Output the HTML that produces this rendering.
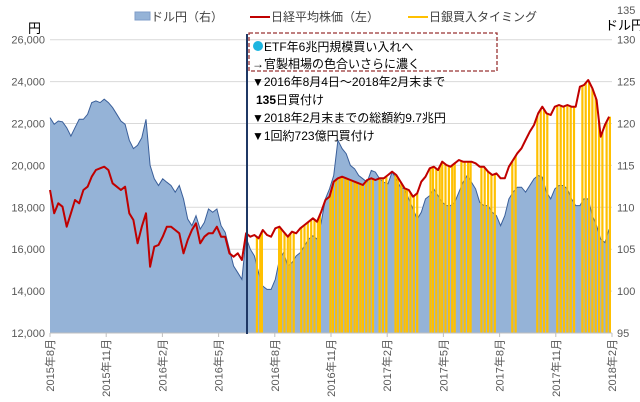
<!DOCTYPE html>
<html><head><meta charset="utf-8">
<style>
body{margin:0;background:#fff;}
svg{display:block;font-family:"Liberation Sans","Noto Sans CJK JP",sans-serif;}
</style></head>
<body>
<svg id="chart" width="640" height="402" viewBox="0 0 640 402" xmlns="http://www.w3.org/2000/svg">
<g id="grid"></g>
<g id="usd"></g>
<g id="boj"></g>
<g id="nk"></g>
<g id="axes"></g>
<line x1="247" y1="34" x2="247" y2="334" stroke="#1F3864" stroke-width="2"/>
<g font-size="12" fill="#000">
<rect x="249" y="33" width="248" height="38" fill="none" stroke="#993333" stroke-width="1.3" stroke-dasharray="4,2"/>
<circle cx="258" cy="46" r="5" fill="#1CB5E0"/>
<text x="264" y="51">ETF年6兆円規模買い入れへ</text>
<text x="252" y="68">→官製相場の色合いさらに濃く</text>
<text x="252" y="86">▼2016年8月4日～2018年2月末まで</text>
<text x="256" y="104"><tspan font-weight="bold">135</tspan>日買付け</text>
<text x="252" y="122">▼2018年2月末までの総額約9.7兆円</text>
<text x="252" y="140">▼1回約723億円買付け</text>
</g>
<g font-size="12" fill="#404040">
<rect x="135" y="12" width="15" height="8" fill="#95B3D7" stroke="#7F9CC8"/>
<text x="151" y="21">ドル円（右）</text>
<line x1="250" y1="17" x2="270" y2="17" stroke="#C00000" stroke-width="2"/>
<text x="271" y="21">日経平均株価（左）</text>
<line x1="408" y1="17" x2="428" y2="17" stroke="#FFC000" stroke-width="2"/>
<text x="429" y="21">日銀買入タイミング</text>
</g>
<text x="28" y="33" font-size="13" fill="#000">円</text>
<text x="605" y="30" font-size="13" fill="#000">ドル円</text>
</svg>
<script>
const nikkei=[18825,17713,18190,18029,17075,17713,18348,18190,18825,18983,19460,19780,19861,19937,19780,19145,18983,18825,18983,17713,17393,16281,17075,17713,15165,16120,16200,16598,17075,17075,16916,16757,15804,16439,16916,17234,16281,16598,16757,16757,17075,16598,16598,15804,15641,15804,15484,
16757,16598,16677,16519,16916,16677,16598,16996,17075,16836,16598,16836,16757,16996,17155,17313,17473,17313,17790,18348,18506,19222,19384,19460,19384,19302,19222,19145,19064,19302,19384,19302,19384,19384,19541,19700,19541,19222,18906,18825,18506,18668,19222,19460,19861,19937,
19780,20176,20019,19937,20100,20257,20176,20176,20176,20100,19937,19937,19700,19541,19620,19384,19384,19937,20257,20577,20816,21212,21608,21928,22486,22801,22486,22405,22801,22882,22801,22882,22801,22801,23756,23837,24076,23679,23121,21371,21928,22324];
const usdjpy=[120.7,119.9,120.3,120.2,119.5,118.5,119.5,120.5,120.5,121.1,122.5,122.7,122.5,122.9,122.5,121.9,121.1,120.3,119.9,118.0,117.0,117.4,118.3,120.5,115.0,113.4,112.6,113.4,113.0,112.6,111.8,112.6,111.0,108.6,107.8,109.0,107.4,108.2,109.8,109.4,109.8,107.8,107.0,105.0,103.0,102.2,101.4,
106.4,105.0,104.2,102.2,100.6,100.2,100.2,101.4,103.8,104.6,103.0,103.4,104.2,104.6,105.4,106.2,106.6,106.2,108.2,111.0,112.2,113.8,118.0,117.0,116.4,115.0,114.6,113.8,113.4,113.0,114.4,114.2,113.4,113.0,112.8,114.2,113.4,112.4,112.2,111.0,109.8,108.6,109.4,111.0,111.4,112.2,
111.4,110.6,110.2,110.2,110.6,111.8,113.0,113.8,113.0,112.2,110.6,110.2,110.2,109.4,109.0,107.8,109.0,111.0,111.8,112.4,112.4,111.8,112.6,113.4,113.8,113.6,111.8,111.0,112.2,112.6,112.6,112.2,111.0,110.2,110.2,111.0,111.0,109.0,107.8,106.2,105.8,107.4];
const bojWeeks=[49.6,50.4,50.8,54.9,55.4,56.2,57.0,57.6,58.4,60.2,61.0,61.8,62.6,63.4,64.2,64.7,67.2,67.8,68.6,69.4,70.0,70.8,71.4,72.2,73.0,73.6,74.4,75.0,75.8,76.6,77.4,79.0,79.8,80.6,82.8,83.4,84.2,85.0,85.6,86.4,87.2,88.0,91.2,91.8,92.6,93.4,94.0,94.8,95.6,96.4,97.0,98.6,99.4,100.2,100.8,103.4,104.2,105.0,105.8,106.6,110.8,111.6,116.8,117.6,118.4,119.2,121.6,122.4,123.2,124.0,124.8,125.6,127.6,128.4,129.2,130.0,130.8,131.6,132.4,133.4,134.2];
const leftTicks=[12000,14000,16000,18000,20000,22000,24000,26000];
const rightTicks=[95,100,105,110,115,120,125,130,135];
const xLabels=["2015年8月","2015年11月","2016年2月","2016年5月","2016年8月","2016年11月","2017年2月","2017年5月","2017年8月","2017年11月","2018年2月"];

const NS="http://www.w3.org/2000/svg";
const X0=50,X1=612,YB=333;
const WEEKS=134.7;
function xW(w){return X0+w*(X1-X0)/WEEKS;}
function yL(v){return YB-(v-12000)*41.9/2000;}
function yR(v){return YB-(v-95)*41.9/5;}
function mk(tag,attrs,parent){const e=document.createElementNS(NS,tag);for(const k in attrs)e.setAttribute(k,attrs[k]);parent.appendChild(e);return e;}
function nkAt(w){const i=Math.floor(w),f=w-i;const a=nikkei[Math.min(i,nikkei.length-1)],b=nikkei[Math.min(i+1,nikkei.length-1)];return a+(b-a)*f;}

const grid=document.getElementById('grid'),axes=document.getElementById('axes');
leftTicks.forEach((t,i)=>{
  if(t>12000){const l=mk('line',{x1:X0,x2:X1,y1:yL(t),y2:yL(t),stroke:'#D9D9D9','stroke-width':1},grid);
  
  }
  const tx=mk('text',{x:45,y:yL(t)+4,'font-size':11,fill:'#595959','text-anchor':'end'},axes);
  tx.textContent=t.toLocaleString('en-US');
  
  
});
rightTicks.forEach(t=>{
  const tx=mk('text',{x:617,y:Math.max(yR(t)+4,14),'font-size':11,fill:'#595959'},axes);
  tx.textContent=t;
  
  
});
let d='M'+xW(0)+','+YB;
usdjpy.forEach((v,i)=>{d+=' L'+xW(i).toFixed(1)+','+yR(v).toFixed(1);});
d+=' L'+xW(usdjpy.length-1).toFixed(1)+','+YB+' Z';
const area=mk('path',{d:d,fill:'#95B3D7',stroke:'none'},document.getElementById('usd'));


let d2='';usdjpy.forEach((v,i)=>{d2+=(i?' L':'M')+xW(i).toFixed(1)+','+yR(v).toFixed(1);});
const edge=mk('path',{d:d2,fill:'none',stroke:'#3A5F9A','stroke-width':1},document.getElementById('usd'));


const bg=document.getElementById('boj');
bojWeeks.forEach(w=>{
  const x=xW(w),y=yL(nkAt(w));
  const r=mk('rect',{x:(x-1.1).toFixed(1),y:y.toFixed(1),width:2.2,height:(YB-y).toFixed(1),fill:'#FFC000'},bg);
  
  
});
let d3='';nikkei.forEach((v,i)=>{d3+=(i?' L':'M')+xW(i).toFixed(1)+','+yL(v).toFixed(1);});
const ln=mk('path',{d:d3,fill:'none',stroke:'#C00000','stroke-width':2,'stroke-linejoin':'round'},document.getElementById('nk'));


const ax=mk('line',{x1:X0,x2:X1,y1:YB,y2:YB,stroke:'#BFBFBF'},axes);


xLabels.forEach((s,i)=>{
  const x=X0+i*(X1-X0)/(xLabels.length-1);
  const tk=mk('line',{x1:x,x2:x,y1:YB,y2:YB+4,stroke:'#BFBFBF'},axes);
  
  
  const tx=mk('text',{x:0,y:0,'font-size':11,fill:'#595959','text-anchor':'end',transform:'translate('+(x+4)+','+(YB+6)+') rotate(-90)'},axes);
  tx.textContent=s;
  
  
});
</script>
</body></html>
